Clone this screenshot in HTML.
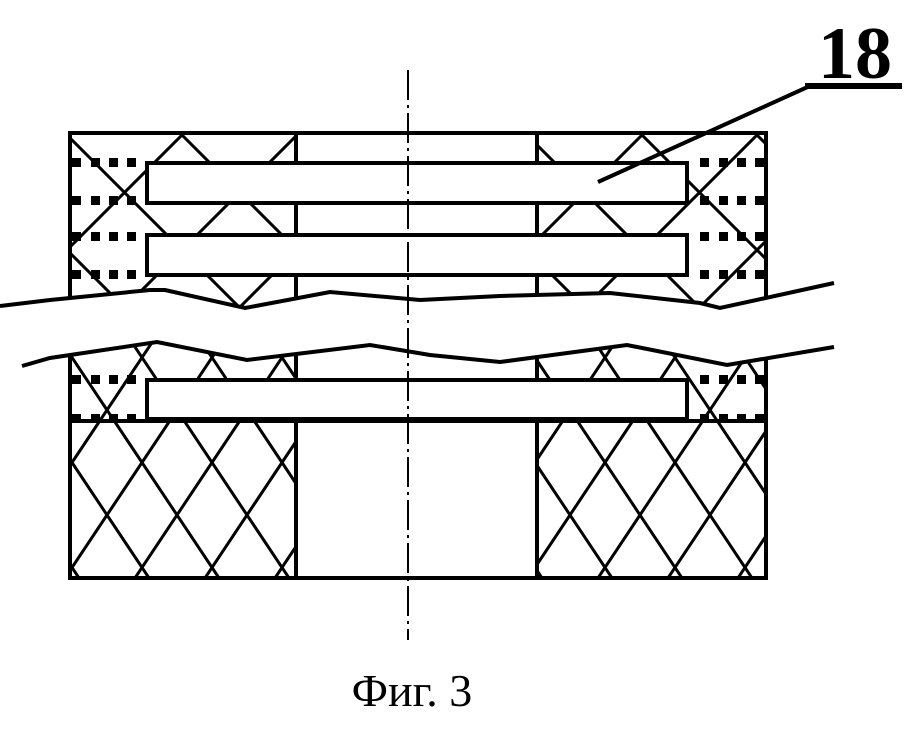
<!DOCTYPE html>
<html><head><meta charset="utf-8"><style>html,body{margin:0;padding:0;background:#fff;width:924px;height:732px;overflow:hidden}svg{display:block}</style></head>
<body>
<svg width="924" height="732" viewBox="0 0 924 732" xmlns="http://www.w3.org/2000/svg">
<defs>
<clipPath id="cu"><rect x="70" y="133" width="226" height="180"/><rect x="537" y="133" width="229" height="180"/></clipPath>
<clipPath id="cll"><rect x="70" y="340" width="226" height="238"/></clipPath>
<clipPath id="clr"><rect x="537" y="340" width="229" height="238"/></clipPath>
</defs>
<g stroke="#000" fill="none">
<!-- upper hatch: slope 1, period 115 through (132,200) -->
<g clip-path="url(#cu)" stroke-width="3">
<path d="M-183 0 L217 400 M-68 0 L332 400 M47 0 L447 400 M162 0 L562 400 M277 0 L677 400 M392 0 L792 400 M507 0 L907 400 M622 0 L1022 400
M-83 400 L317 0 M32 400 L432 0 M147 400 L547 0 M262 400 L662 0 M377 400 L777 0 M492 400 L892 0 M607 400 L1007 0"/>
</g>
<!-- lower hatch left -->
<g clip-path="url(#cll)" stroke-width="3">
<path d="M-163 215 L237 815 M-93 215 L307 815 M-23 215 L377 815 M47 215 L447 815 M117 215 L517 815 M187 215 L587 815 M257 215 L657 815
M-163 815 L237 215 M-93 815 L307 215 M-23 815 L377 215 M47 815 L447 215 M117 815 L517 215 M187 815 L587 215 M257 815 L657 215"/>
</g>
<!-- lower hatch right -->
<g clip-path="url(#clr)" stroke-width="3">
<path d="M160 215 L560 815 M230 215 L630 815 M300 215 L700 815 M370 215 L770 815 M440 215 L840 815 M510 215 L910 815 M580 215 L980 815 M650 215 L1050 815
M160 815 L560 215 M230 815 L630 215 M300 815 L700 215 M370 815 L770 215 M440 815 L840 215 M510 815 L910 215 M580 815 L980 215 M650 815 L1050 215"/>
</g>
<!-- frame -->
<rect x="70" y="133" width="696" height="445" stroke-width="4"/>
<line x1="296" y1="133" x2="296" y2="578" stroke-width="4"/>
<line x1="537" y1="133" x2="537" y2="578" stroke-width="4"/>
<line x1="70" y1="421" x2="766" y2="421" stroke-width="4"/>
</g>
<!-- dots -->
<g fill="#000">
<g id="dl">
<rect x="72" y="158" width="9" height="9"/><rect x="91" y="158" width="9" height="9"/><rect x="109" y="158" width="9" height="9"/><rect x="127" y="158" width="9" height="9"/>
</g>
<use href="#dl" y="38"/><use href="#dl" y="74"/><use href="#dl" y="112"/><use href="#dl" y="217"/><use href="#dl" y="256"/>
<use href="#dl" x="628"/><use href="#dl" x="628" y="38"/><use href="#dl" x="628" y="74"/><use href="#dl" x="628" y="112"/><use href="#dl" x="628" y="217"/><use href="#dl" x="628" y="256"/>
</g>
<!-- bars -->
<g fill="#fff" stroke="#000" stroke-width="4">
<rect x="147" y="163" width="540" height="40"/>
<rect x="147" y="235" width="540" height="40"/>
<rect x="147" y="380" width="540" height="39"/>
</g>
<!-- break gap -->
<path d="M0 306 L50 300 L150 290 L165 290 L245 308 L330 292 L420 300 L500 296 L610 293 L700 303 L720 308 L840 283 L840 347 L727 365 L627 345 L500 362 L430 355 L370 345 L247 360 L157 342 L50 358 L0 368 Z" fill="#fff"/>
<g stroke="#000" stroke-width="4" fill="none">
<polyline points="0,306 50,300 150,290 165,290 245,308 330,292 420,300 500,296 610,293 700,303 720,308 834,283"/>
<polyline points="22,366 50,358 157,342 247,360 370,345 430,355 500,362 627,345 727,365 834,347"/>
</g>
<!-- centerline -->
<line x1="408" y1="70" x2="408" y2="640" stroke="#000" stroke-width="2" stroke-dasharray="30,5,3,5"/>
<!-- leader -->
<line x1="598" y1="182" x2="812" y2="85" stroke="#000" stroke-width="4"/>
<line x1="805" y1="86" x2="902" y2="86" stroke="#000" stroke-width="6"/>
<text x="818" y="78" font-family="Liberation Serif, serif" font-size="74" font-weight="bold">18</text>
<text x="412" y="706" text-anchor="middle" font-family="Liberation Serif, serif" font-size="46">Фиг. 3</text>
</svg>
</body></html>
